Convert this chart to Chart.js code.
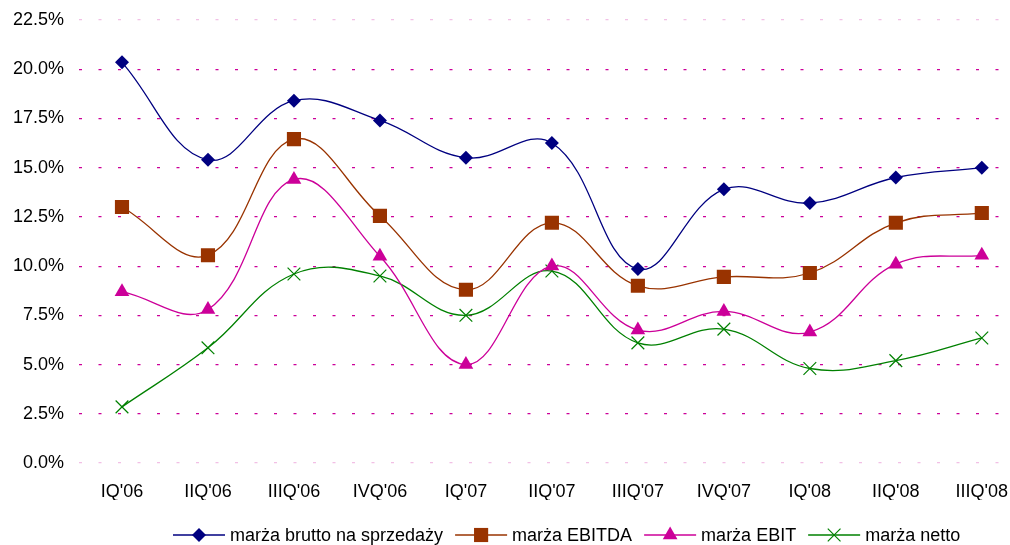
<!DOCTYPE html>
<html>
<head>
<meta charset="utf-8">
<script src="https://cdn.jsdelivr.net/npm/chart.js@4/dist/chart.umd.min.js"></script>
<style>
  html, body { margin: 0; padding: 0; background: #fff; }
  body { width: 1010px; height: 545px; overflow: hidden; }
  /* plot area runs past the right edge in the original, so the canvas is a bit wider */
  #wrap { width: 1035px; height: 545px; }
</style>
</head>
<body>
<div id="wrap"><canvas id="myChart"></canvas></div>
<script>
// Quarters on the x axis
const quarters = ["IQ'06", "IIQ'06", "IIIQ'06", "IVQ'06", "IQ'07", "IIQ'07", "IIIQ'07", "IVQ'07", "IQ'08", "IIQ'08", "IIIQ'08"];

// Margins in percent
const brutto = [20.35, 15.4, 18.4, 17.4, 15.5, 16.25, 9.85, 13.9, 13.2, 14.5, 15.0];
const ebitda = [13.0, 10.55, 16.45, 12.55, 8.8, 12.2, 9.0, 9.45, 9.65, 12.2, 12.7];
const ebit = [8.7, 7.8, 14.4, 10.5, 5.0, 10.0, 6.75, 7.7, 6.65, 10.1, 10.55];
const netto = [2.85, 5.85, 9.6, 9.5, 7.5, 9.75, 6.1, 6.8, 4.8, 5.2, 6.35];

const seriesNames = ["marża brutto na sprzedaży", "marża EBITDA", "marża EBIT", "marża netto"];
const seriesColors = ["#000080", "#993300", "#CC0099", "#008000"];

Chart.defaults.font.family = "'Liberation Sans', Arial, sans-serif";
Chart.defaults.font.size = 18;
Chart.defaults.color = "#000";

// legend drawn by hand: short line with the marker in the middle, then the text
const lineLegend = {
  id: "lineLegend",
  afterDraw(chart) {
    const ctx = chart.ctx;
    const y = 535;
    let x = 173;
    ctx.save();
    ctx.font = "18px 'Liberation Sans', Arial, sans-serif";
    ctx.textBaseline = "middle";
    chart.data.datasets.forEach((ds) => {
      ctx.strokeStyle = ds.borderColor;
      ctx.lineWidth = ds.borderWidth;
      ctx.beginPath();
      ctx.moveTo(x, y);
      ctx.lineTo(x + 52, y);
      ctx.stroke();
      ctx.fillStyle = ds.pointBackgroundColor;
      ctx.strokeStyle = ds.pointBorderColor;
      ctx.lineWidth = ds.pointBorderWidth;
      Chart.helpers.drawPoint(ctx, {
        pointStyle: ds.pointStyle,
        radius: ds.pointRadius,
        rotation: 0,
        borderWidth: ds.pointBorderWidth,
      }, x + 26, y);
      ctx.fillStyle = "#000";
      ctx.fillText(ds.label, x + 57, y + 1);
      x += 57 + ctx.measureText(ds.label).width + 12;
    });
    ctx.restore();
  },
};

function makeSet(idx, data, style, radius, borderW) {
  return {
    label: seriesNames[idx],
    data: data,
    borderColor: seriesColors[idx],
    backgroundColor: seriesColors[idx],
    borderWidth: 1.3,
    tension: 0.4,
    pointStyle: style,
    pointRadius: radius,
    pointHoverRadius: radius,
    pointBackgroundColor: seriesColors[idx],
    pointBorderColor: seriesColors[idx],
    pointBorderWidth: borderW,
  };
}

const ctx = document.getElementById("myChart").getContext("2d");
const myChart = new Chart(ctx, {
  type: "line",
  data: {
    labels: quarters,
    datasets: [
      makeSet(0, brutto, "rectRot", 7, 0),
      makeSet(1, ebitda, "rect", 10, 0),
      makeSet(2, ebit, "triangle", 8.5, 0),
      makeSet(3, netto, "crossRot", 9, 1.2),
    ],
  },
  options: {
    responsive: true,
    maintainAspectRatio: false,
    animation: false,
    layout: {
      padding: { left: 0, right: 0, top: 20, bottom: 45 },
    },
    plugins: {
      legend: { display: false },
      tooltip: { enabled: false },
    },
    scales: {
      x: {
        offset: true,
        grid: { display: false, drawTicks: false },
        border: { display: false },
        ticks: { padding: 18, maxRotation: 0, autoSkip: false },
        afterFit(s) {
          s.height = 37;
          s.paddingLeft = 0;
          s.paddingRight = 0;
        },
      },
      y: {
        min: 0,
        max: 22.5,
        border: { display: false, dash: [3, 16.5] },
        grid: {
          drawTicks: false,
          lineWidth: 1.2,
          color: (c) => (c.tick && (c.tick.value === 0 || c.tick.value === 22.5)) ? "rgba(204,0,153,0.25)" : "#CC0099",
        },
        ticks: {
          stepSize: 2.5,
          padding: 15,
          callback: (v) => v.toFixed(1) + "%",
        },
        afterFit(s) {
          s.width = 79;
          s.paddingTop = 0;
          s.paddingBottom = 0;
        },
      },
    },
  },
  plugins: [lineLegend],
});
</script>
</body>
</html>
